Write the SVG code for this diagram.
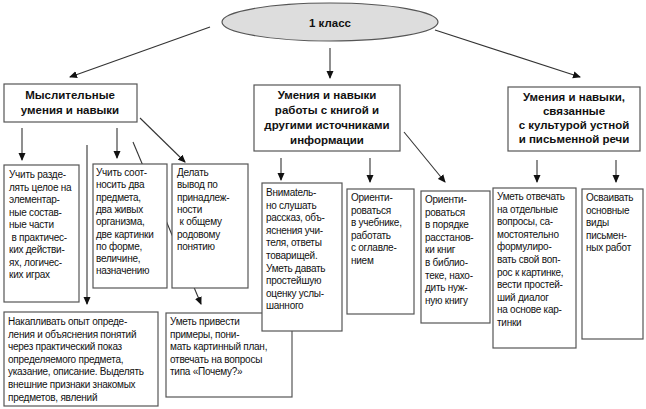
<svg xmlns="http://www.w3.org/2000/svg" width="646" height="409" viewBox="0 0 646 409">
<style>
rect.b{fill:#fff;stroke:#555;stroke-width:1.2}
text{font-family:"Liberation Sans",Arial,sans-serif;font-size:10px;fill:#111;letter-spacing:-0.25px}
text.h{font-weight:bold;font-size:11.5px;text-anchor:middle;letter-spacing:0}
line{stroke:#333;stroke-width:1.1}
line.a{marker-end:url(#ar)}
</style>
<defs><marker id="ar" markerWidth="8" markerHeight="8" refX="7" refY="4" orient="auto" markerUnits="userSpaceOnUse"><path d="M0,0.5 L8,4 L0,7.5 Z" fill="#111"/></marker></defs>
<rect width="646" height="409" fill="#fff"/>
<g id="connectors">
<line class="a" x1="210" y1="27" x2="70" y2="77"/>
<line class="a" x1="330" y1="48" x2="330" y2="78"/>
<line class="a" x1="435" y1="30" x2="580" y2="77"/>
<line class="a" x1="22" y1="128" x2="22" y2="160"/>
<line class="a" x1="117" y1="128" x2="117" y2="158"/>
<line class="a" x1="140" y1="118" x2="185" y2="162"/>
<line class="a" x1="87" y1="145" x2="87" y2="304"/>
<line class="a" x1="133" y1="142" x2="201" y2="304"/>
<line class="a" x1="281" y1="158" x2="281" y2="180"/>
<line class="a" x1="370" y1="158" x2="370" y2="182"/>
<line class="a" x1="404" y1="132" x2="445" y2="182"/>
<line class="a" x1="537" y1="160" x2="537" y2="182"/>
<line class="a" x1="616" y1="160" x2="616" y2="182"/>
</g>
<g id="root"><ellipse cx="330" cy="22" rx="108" ry="19" fill="#ddd" stroke="#555" stroke-width="1.2"/><text class="h" x="330" y="27">1 класс</text></g>
<g id="A"><rect class="b" x="4" y="84" width="133" height="38"/><text class="h" x="70" y="99">Мыслительные</text><text class="h" x="70" y="114">умения и навыки</text></g>
<g id="B"><rect class="b" x="254" y="85" width="146" height="66"/><text class="h" x="327" y="99">Умения и навыки</text><text class="h" x="327" y="114">работы с книгой и</text><text class="h" x="327" y="129">другими источниками</text><text class="h" x="327" y="144">информации</text></g>
<g id="C"><rect class="b" x="508" y="87" width="132" height="64"/><text class="h" x="574" y="101">Умения и навыки,</text><text class="h" x="574" y="115">связанные</text><text class="h" x="574" y="129">с культурой устной</text><text class="h" x="574" y="143">и письменной речи</text></g>
<g id="L1"><rect class="b" x="4" y="165" width="75" height="137"/><text x="9" y="178">Учить разде-<tspan x="9" dy="12.5">лять целое на</tspan><tspan x="9" dy="12.5">элементар-</tspan><tspan x="9" dy="12.5">ные состав-</tspan><tspan x="9" dy="12.5">ные части</tspan><tspan x="9" dy="12.5"> в практичес-</tspan><tspan x="9" dy="12.5">ких действи-</tspan><tspan x="9" dy="12.5">ях, логичес-</tspan><tspan x="9" dy="12.5">ких играх</tspan></text></g>
<g id="L2"><rect class="b" x="93" y="164" width="74" height="124"/><text x="96" y="176">Учить соот-<tspan x="96" dy="12.3">носить два</tspan><tspan x="96" dy="12.3">предмета,</tspan><tspan x="96" dy="12.3">два живых</tspan><tspan x="96" dy="12.3">организма,</tspan><tspan x="96" dy="12.3">две картинки</tspan><tspan x="96" dy="12.3">по форме,</tspan><tspan x="96" dy="12.3">величине,</tspan><tspan x="96" dy="12.3">назначению</tspan></text></g>
<g id="L3"><rect class="b" x="172" y="164" width="76" height="124"/><text x="177" y="176">Делать<tspan x="177" dy="12.3">вывод по</tspan><tspan x="177" dy="12.3">принадлеж-</tspan><tspan x="177" dy="12.3">ности</tspan><tspan x="177" dy="12.3"> к общему</tspan><tspan x="177" dy="12.3">родовому</tspan><tspan x="177" dy="12.3">понятию</tspan></text></g>
<g id="L4"><rect class="b" x="4" y="312" width="154" height="94"/><text x="8" y="325">Накапливать опыт опреде-<tspan x="8" dy="12.6">ления и объяснения понятий</tspan><tspan x="8" dy="12.6">через практический показ</tspan><tspan x="8" dy="12.6">определяемого предмета,</tspan><tspan x="8" dy="12.6">указание, описание. Выделять</tspan><tspan x="8" dy="12.6">внешние признаки знакомых</tspan><tspan x="8" dy="12.6">предметов, явлений</tspan></text></g>
<g id="L5"><rect class="b" x="166" y="313" width="126" height="84"/><text x="170" y="325">Уметь привести<tspan x="170" dy="12.6">примеры, пони-</tspan><tspan x="170" dy="12.6">мать картинный план,</tspan><tspan x="170" dy="12.6">отвечать на вопросы</tspan><tspan x="170" dy="12.6">типа «Почему?»</tspan></text></g>
<g id="M1"><rect class="b" x="262" y="183" width="80" height="148"/><text x="266" y="196">Внимatель-<tspan x="266" dy="12.6">но слушать</tspan><tspan x="266" dy="12.6">рассказ, объ-</tspan><tspan x="266" dy="12.6">яснения учи-</tspan><tspan x="266" dy="12.6">теля, ответы</tspan><tspan x="266" dy="12.6">товарищей.</tspan><tspan x="266" dy="12.6">Уметь давать</tspan><tspan x="266" dy="12.6">простейшую</tspan><tspan x="266" dy="12.6">оценку услы-</tspan><tspan x="266" dy="12.6">шанного</tspan></text></g>
<g id="M2"><rect class="b" x="347" y="189" width="67" height="125"/><text x="351" y="201">Ориенти-<tspan x="351" dy="12.6">роваться</tspan><tspan x="351" dy="12.6">в учебнике,</tspan><tspan x="351" dy="12.6">работать</tspan><tspan x="351" dy="12.6">с оглавле-</tspan><tspan x="351" dy="12.6">нием</tspan></text></g>
<g id="M3"><rect class="b" x="421" y="191" width="69" height="132"/><text x="425" y="203">Ориенти-<tspan x="425" dy="12.6">роваться</tspan><tspan x="425" dy="12.6">в порядке</tspan><tspan x="425" dy="12.6">расстанов-</tspan><tspan x="425" dy="12.6">ки книг</tspan><tspan x="425" dy="12.6">в библио-</tspan><tspan x="425" dy="12.6">теке, нахо-</tspan><tspan x="425" dy="12.6">дить нуж-</tspan><tspan x="425" dy="12.6">ную книгу</tspan></text></g>
<g id="R1"><rect class="b" x="493" y="188" width="83" height="160"/><text x="497" y="200">Уметь отвечать<tspan x="497" dy="12.6">на отдельные</tspan><tspan x="497" dy="12.6">вопросы, са-</tspan><tspan x="497" dy="12.6">мостоятельно</tspan><tspan x="497" dy="12.6">формулиро-</tspan><tspan x="497" dy="12.6">вать свой воп-</tspan><tspan x="497" dy="12.6">рос к картинке,</tspan><tspan x="497" dy="12.6">вести простей-</tspan><tspan x="497" dy="12.6">ший диалог</tspan><tspan x="497" dy="12.6">на основе кар-</tspan><tspan x="497" dy="12.6">тинки</tspan></text></g>
<g id="R2"><rect class="b" x="582" y="189" width="61" height="150"/><text x="586" y="201">Осваивать<tspan x="586" dy="12.6">основные</tspan><tspan x="586" dy="12.6">виды</tspan><tspan x="586" dy="12.6">письмен-</tspan><tspan x="586" dy="12.6">ных работ</tspan></text></g>
</svg>
